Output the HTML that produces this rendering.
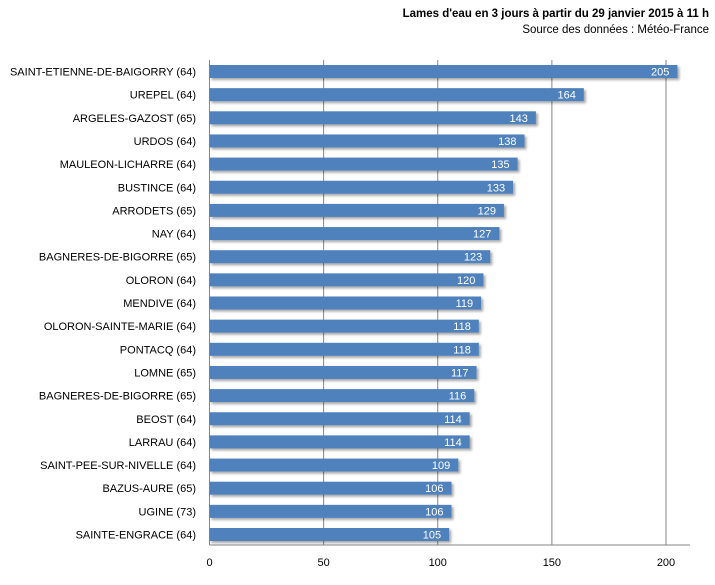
<!DOCTYPE html>
<html><head><meta charset="utf-8"><style>
body{margin:0;background:#fff;}
svg{font-family:"Liberation Sans",sans-serif;}
</style></head><body>
<svg width="715" height="580">
<defs><filter id="sh" x="-5%" y="-30%" width="115%" height="180%"><feDropShadow dx="2" dy="2" stdDeviation="1.2" flood-color="#000" flood-opacity="0.35"/></filter></defs>
<text x="709" y="17" text-anchor="end" font-size="11.5" font-weight="bold">Lames d'eau en 3 jours à partir du 29 janvier 2015 à 11 h</text>
<text x="709" y="33" text-anchor="end" font-size="11.5">Source des données : Météo-France</text>
<g id="grid"></g><g id="bars"></g><g id="labels"></g><g id="ticks"></g>
</svg>
<script>
const categories=["SAINT-ETIENNE-DE-BAIGORRY  (64)","UREPEL (64)","ARGELES-GAZOST (65)","URDOS (64)","MAULEON-LICHARRE (64)","BUSTINCE (64)","ARRODETS (65)","NAY (64)","BAGNERES-DE-BIGORRE  (65)","OLORON (64)","MENDIVE (64)","OLORON-SAINTE-MARIE (64)","PONTACQ (64)","LOMNE (65)","BAGNERES-DE-BIGORRE (65)","BEOST (64)","LARRAU (64)","SAINT-PEE-SUR-NIVELLE  (64)","BAZUS-AURE (65)","UGINE (73)","SAINTE-ENGRACE  (64)"];
const values=[205,164,143,138,135,133,129,127,123,120,119,118,118,117,116,114,114,109,106,106,105];
const tickValues=[0,50,100,150,200];
const NS="http://www.w3.org/2000/svg";
const x0=209.5,scale=(666-209.5)/200,top0=65,pitch=23.15,bh=13,axisY=545,plotR=690;
const xs=v=>x0+v*scale, ys=i=>top0+i*pitch;
function mk(t,a,p){const e=document.createElementNS(NS,t);for(const k in a)e.setAttribute(k,a[k]);document.getElementById(p).appendChild(e);return e;}
tickValues.forEach(v=>{
 if(v>0){const l=mk('line',{x1:xs(v),x2:xs(v),y1:60,y2:axisY,stroke:'#868686','stroke-width':1},'grid');
 
 }
 const t=mk('text',{x:xs(v),y:566,'text-anchor':'middle','font-size':11},'ticks');t.textContent=v;
 
 
});
const ax=mk('line',{x1:x0,x2:plotR,y1:axisY,y2:axisY,stroke:'#868686'},'grid');


const ay=mk('line',{x1:x0,x2:x0,y1:60,y2:axisY,stroke:'#868686'},'grid');


values.forEach((v,i)=>{
 const r=mk('rect',{x:x0,y:ys(i),width:xs(v)-x0,height:bh,fill:'#4f81bd',filter:'url(#sh)'},'bars');
 
 
 const vt=mk('text',{x:xs(v)-8,y:ys(i)+10.5,'text-anchor':'end','font-size':11,fill:'#fff'},'bars');vt.textContent=v;
 
 
 const ct=mk('text',{x:196,y:ys(i)+10.5,'text-anchor':'end','font-size':11,'xml:space':'preserve'},'labels');ct.textContent=categories[i];
 
 
});
</script>
</body></html>
